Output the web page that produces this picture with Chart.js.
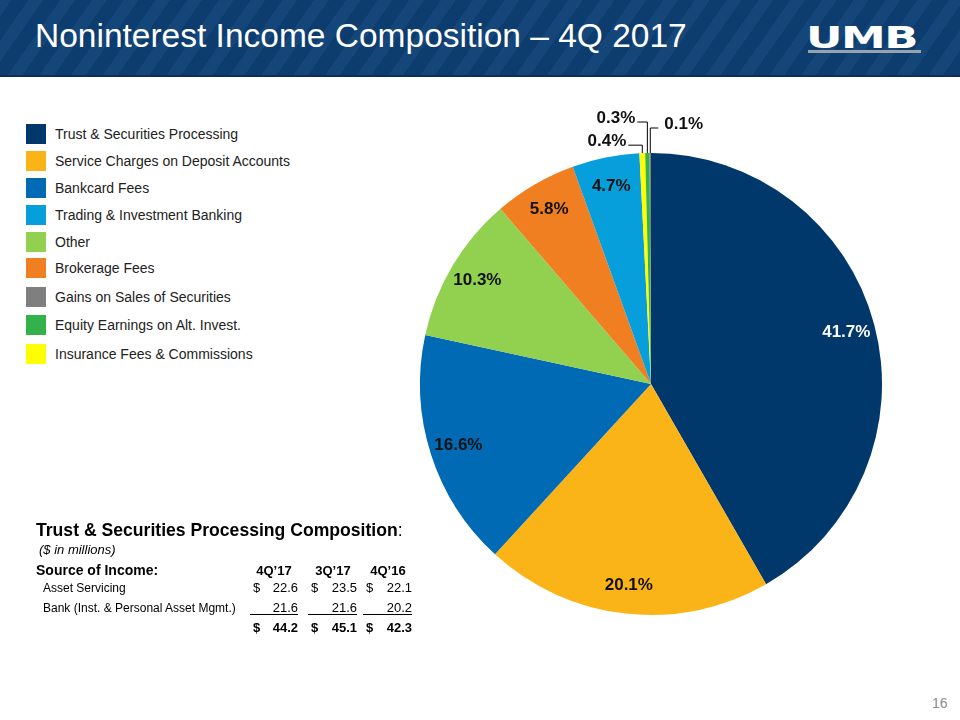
<!DOCTYPE html>
<html>
<head>
<meta charset="utf-8">
<script src="https://cdn.jsdelivr.net/npm/chart.js@4.4.1/dist/chart.umd.min.js"></script>
<style>
  body { margin: 0; width: 960px; height: 720px; background: #fff; font-family: Arial, "Liberation Sans", sans-serif; position: relative; overflow: hidden; }
  #header { position: absolute; left: 0; top: 0; width: 960px; height: 75px;
    background: repeating-linear-gradient(-55deg, #0d3c6f 0px, #0d3c6f 14px, #144679 14px, #144679 26px);
    border-bottom: 2px solid #0a2f58; }
  #title { position: absolute; left: 35px; top: 17px; color: #fff; font-size: 33.5px; white-space: nowrap; }
  #logo { position: absolute; left: 806px; top: 19px; color: #fff; font: bold 31px "DejaVu Sans", sans-serif; letter-spacing: -1px; transform: scaleX(1.45); transform-origin: left; }
  #logoBar { position: absolute; left: 808px; top: 50px; width: 113px; height: 3px; background: #9aa3ad; }
  #legend { position: absolute; left: 26px; top: 0; }
  .lg { position: absolute; left: 0; width: 300px; height: 20px; }
  .sw { position: absolute; left: 0; top: 0; width: 20px; height: 20px; }
  .lt { position: absolute; left: 29px; top: 2px; font-size: 14px; color: #222; white-space: nowrap; }
  #pieBox { position: absolute; left: 391px; top: 84px; width: 520px; height: 600px; }
  .t { position: absolute; white-space: nowrap; color: #000; }
  #page { position: absolute; left: 932px; top: 695px; font-size: 14px; color: #8c8c8c; }
</style>
</head>
<body>
<div id="header">
  <div id="title">Noninterest Income Composition – 4Q 2017</div>
  <div id="logo">UMB</div>
  <div id="logoBar"></div>
</div>
<div id="legend"></div>
<div id="pieBox"><canvas id="pie"></canvas></div>
<div id="table"></div>
<div id="page">16</div>
<script>
// pie slices, clockwise from 12 o'clock
const categories = [
  "Trust & Securities Processing",
  "Service Charges on Deposit Accounts",
  "Bankcard Fees",
  "Other",
  "Brokerage Fees",
  "Trading & Investment Banking",
  "Insurance Fees & Commissions",
  "Equity Earnings on Alt. Invest.",
  "Gains on Sales of Securities"
];
const shares = [41.7, 20.1, 16.6, 10.3, 5.8, 4.7, 0.4, 0.3, 0.1];
const sliceColors = ["#00386b", "#fbb417", "#006ab4", "#92d050", "#f07f22", "#069fdb", "#ffff00", "#33b14a", "#7f7f7f"];

// legend order as shown on the slide
const legendOrder = [
  "Trust & Securities Processing",
  "Service Charges on Deposit Accounts",
  "Bankcard Fees",
  "Trading & Investment Banking",
  "Other",
  "Brokerage Fees",
  "Gains on Sales of Securities",
  "Equity Earnings on Alt. Invest.",
  "Insurance Fees & Commissions"
];

// Trust & Securities Processing table
const quarters = ["4Q\u201917", "3Q\u201917", "4Q\u201916"];
const assetServicing = [22.6, 23.5, 22.1];
const bankMgmt = [21.6, 21.6, 20.2];
const totals = [44.2, 45.1, 42.3];

// legend
const legendTops = [124, 151, 178, 205, 232, 258, 287, 315, 344];
const legendEl = document.getElementById("legend");
legendOrder.forEach((name, i) => {
  const idx = categories.indexOf(name);
  const row = document.createElement("div");
  row.className = "lg";
  row.style.top = legendTops[i] + "px";
  row.innerHTML = '<div class="sw" style="background:' + sliceColors[idx] + '"></div><div class="lt">' + name.replace("&", "&amp;") + '</div>';
  legendEl.appendChild(row);
});

// table
const tbl = document.getElementById("table");
function addText(txt, x, y, style, align) {
  const d = document.createElement("div");
  d.className = "t";
  d.innerHTML = txt;
  d.style.cssText += style;
  d.style.top = y + "px";
  if (align === "right") { d.style.right = (960 - x) + "px"; }
  else if (align === "center") { d.style.left = (x - 40) + "px"; d.style.width = "80px"; d.style.textAlign = "center"; }
  else d.style.left = x + "px";
  tbl.appendChild(d);
}
addText("Trust &amp; Securities Processing Composition<span style='font-weight:normal'>:</span>", 36, 520, "font-size:17.6px;font-weight:bold;");
addText("($ in millions)", 39, 542, "font-size:13px;font-style:italic;");
addText("Source of Income:", 36, 562, "font-size:14px;font-weight:bold;");
addText("Asset Servicing", 43, 581, "font-size:12px;");
addText("Bank (Inst. &amp; Personal Asset Mgmt.)", 43, 601, "font-size:12px;");
const colRight = [298, 357, 412];
const colDollar = [253, 311, 366];
quarters.forEach((q, i) => {
  addText(q, colRight[i] - 24, 563, "font-size:13px;font-weight:bold;", "center");
  addText("$", colDollar[i], 580, "font-size:13px;");
  addText(assetServicing[i].toFixed(1), colRight[i], 580, "font-size:13px;", "right");
  addText(bankMgmt[i].toFixed(1), colRight[i], 600, "font-size:13px;", "right");
  addText("$", colDollar[i], 620, "font-size:13px;font-weight:bold;");
  addText(totals[i].toFixed(1), colRight[i], 620, "font-size:13px;font-weight:bold;", "right");
  const u = document.createElement("div");
  u.style.cssText = "position:absolute;height:1px;background:#000;top:614px;left:" + (colDollar[i] - 3) + "px;width:" + (colRight[i] - colDollar[i] + 3) + "px;";
  tbl.appendChild(u);
});

// percentage labels, with elbow leaders for the thin slices
const sliceLabels = {
  id: "sliceLabels",
  afterDatasetsDraw(chart, args, opts) {
    const ctx = chart.ctx;
    const meta = chart.getDatasetMeta(0);
    const data = chart.data.datasets[0].data;
    ctx.save();
    ctx.font = 'bold 17px Arial, "Liberation Sans", sans-serif';
    meta.data.forEach((arc, i) => {
      const p = arc.getProps(["x", "y", "startAngle", "endAngle", "outerRadius"], true);
      const mid = (p.startAngle + p.endAngle) / 2;
      const text = data[i].toFixed(1) + "%";
      const lead = opts.leaders[i];
      if (lead) {
        const ex = p.x + Math.cos(mid) * p.outerRadius;
        const ey = p.y + Math.sin(mid) * p.outerRadius;
        const ky = ey - lead.up;
        const kx = ex + lead.side;
        ctx.strokeStyle = "#000";
        ctx.lineWidth = 1;
        ctx.beginPath();
        ctx.moveTo(ex, ey);
        ctx.lineTo(ex, ky);
        ctx.lineTo(kx, ky);
        ctx.stroke();
        ctx.fillStyle = "#111";
        ctx.textBaseline = "alphabetic";
        ctx.textAlign = lead.side < 0 ? "right" : "left";
        ctx.fillText(text, kx + (lead.side < 0 ? -2 : 6), ky + 1);
      } else {
        const r = p.outerRadius * opts.radiusFactor;
        ctx.fillStyle = i === 0 ? "#fff" : "#111";
        ctx.textAlign = "center";
        ctx.textBaseline = "middle";
        ctx.fillText(text, p.x + Math.cos(mid) * r, p.y + Math.sin(mid) * r);
      }
    });
    ctx.restore();
  }
};

new Chart(document.getElementById("pie"), {
  type: "pie",
  data: {
    labels: categories,
    datasets: [{
      data: shares,
      backgroundColor: sliceColors,
      borderWidth: 0,
      hoverOffset: 0
    }]
  },
  options: {
    responsive: true,
    maintainAspectRatio: false,
    animation: false,
    events: [],
    layout: { padding: { top: 69, bottom: 69, left: 29, right: 29 } },
    plugins: {
      legend: { display: false },
      tooltip: { enabled: false },
      sliceLabels: {
        radiusFactor: 0.875,
        leaders: { 6: { up: 8, side: -14 }, 7: { up: 31, side: -10 }, 8: { up: 25, side: 8 } }
      }
    }
  },
  plugins: [sliceLabels]
});
</script>
</body>
</html>
